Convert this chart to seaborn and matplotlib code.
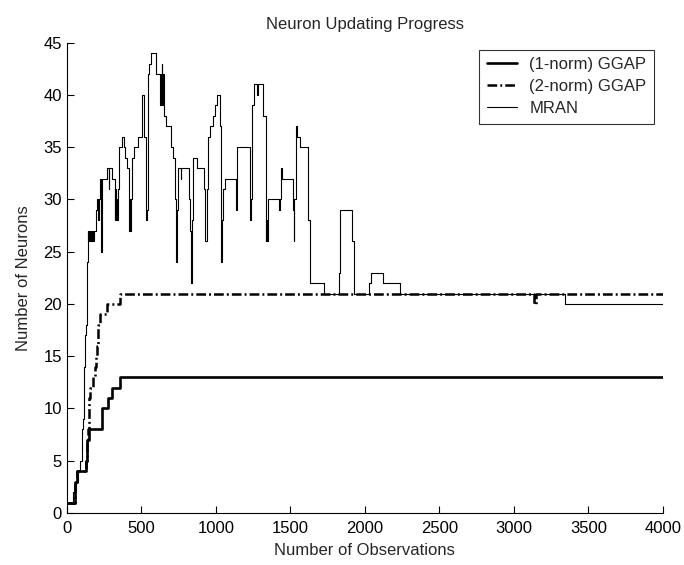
import matplotlib
matplotlib.use("Agg")
import matplotlib.pyplot as plt
import seaborn as sns
import pandas as pd

# Step-change points (observation index, neuron count)
ggap1_x = [0, 58, 72, 132, 136, 152, 237, 278, 303, 355, 4000]
ggap1_y = [1, 3, 4, 5, 7, 8, 10, 11, 12, 13, 13]

ggap2_x = [0, 58, 72, 128, 134, 140, 148, 156, 175, 188, 196, 202, 207, 213,
           222, 268, 360, 3138, 3150, 4000]
ggap2_y = [1, 3, 4, 5, 7, 8, 11, 12, 13, 14, 15, 16, 17, 18,
           19, 20, 21, 20, 21, 21]

mran_x = [0, 40, 62, 75, 88, 100, 104, 110, 114, 118, 123, 128, 134, 142,
          146, 150, 156, 160, 166, 172, 178, 184,
          194, 206, 210, 215, 222, 233, 238, 270, 282, 286, 305,
          322, 326, 330, 335, 340, 344, 350, 368, 386, 391, 402,
          418, 425, 428, 432, 438, 452, 480, 507, 516, 529, 533, 538,
          545, 555, 565, 597, 620, 626, 630, 634, 638, 642, 646,
          652, 668, 697, 713, 724, 731, 740, 750, 765, 770,
          822, 828, 832, 838, 845, 876, 921, 930, 938, 950, 961, 979, 995,
          1010, 1026, 1034, 1038, 1042, 1046, 1062, 1135, 1142,
          1228, 1232, 1236, 1240, 1256, 1276, 1284, 1318, 1334, 1340, 1346,
          1352, 1426, 1432, 1436, 1446, 1518, 1522, 1528, 1536, 1546, 1565,
          1618, 1632, 1727, 1826, 1833, 1915, 1929, 2027, 2041, 2123, 2235,
          3342, 4000]
mran_y = [1, 2, 3, 4, 5, 6, 8, 9, 11, 14, 17, 18, 24, 27,
          26, 27, 26, 27, 26, 27, 26, 27,
          29, 30, 28, 30, 32, 25, 32, 33, 31, 33, 32,
          28, 31, 28, 30, 28, 31, 35, 36, 35, 34, 33,
          27, 30, 27, 30, 34, 35, 36, 40, 36, 29, 28, 29,
          42, 43, 44, 42, 42, 39, 42, 39, 43, 39, 42,
          38, 37, 35, 34, 30, 24, 29, 33, 32, 33,
          30, 27, 22, 28, 34, 33, 31, 26, 31, 36, 37, 38, 39,
          40, 37, 28, 24, 28, 31, 32, 29, 35,
          30, 28, 30, 39, 41, 40, 41, 38, 26, 28, 26,
          30, 29, 30, 33, 32, 29, 26, 30, 37, 36, 35,
          28, 22, 21, 23, 29, 26, 21, 22, 23, 22, 21,
          20, 20]

x_ticks = [0, 500, 1000, 1500, 2000, 2500, 3000, 3500, 4000]
y_ticks = [0, 5, 10, 15, 20, 25, 30, 35, 40, 45]

sns.set_theme(style="ticks")
plt.rcParams["font.family"] = ["Liberation Sans", "DejaVu Sans"]
plt.rcParams["lines.scale_dashes"] = False

fig = plt.figure(figsize=(6.84, 5.65), dpi=100)
ax = fig.add_axes([0.0975, 0.092, 0.8717, 0.8325])

d1 = pd.DataFrame({"obs": ggap1_x, "n": ggap1_y})
d2 = pd.DataFrame({"obs": ggap2_x, "n": ggap2_y})
d3 = pd.DataFrame({"obs": mran_x, "n": mran_y})

sns.lineplot(data=d3, x="obs", y="n", ax=ax, color="black", linewidth=0.8,
             drawstyle="steps-post", estimator=None, label="MRAN", zorder=2)
sns.lineplot(data=d2, x="obs", y="n", ax=ax, color="black", linewidth=1.8,
             drawstyle="steps-post", estimator=None, label="(2-norm) GGAP",
             dashes=False, zorder=3)
sns.lineplot(data=d1, x="obs", y="n", ax=ax, color="black", linewidth=1.9,
             drawstyle="steps-post", estimator=None, label="(1-norm) GGAP",
             zorder=4)
ax.lines[1].set_dashes([7.0, 2.2, 1.4, 2.2])

ax.set_xlim(0, 4000)
ax.set_ylim(0, 45)
ax.set_xticks(x_ticks)
ax.set_yticks(y_ticks)
ax.tick_params(direction="in", length=5, width=0.8, colors="black",
               labelsize=12)
ax.tick_params(axis="x", pad=5.5)
ax.tick_params(axis="y", pad=3.5)
for side in ("top", "right"):
    ax.spines[side].set_visible(False)
for side in ("left", "bottom"):
    ax.spines[side].set_linewidth(0.8)
    ax.spines[side].set_color("black")

ax.set_title("Neuron Updating Progress", fontsize=12, pad=10)
ax.set_xlabel("Number of Observations", fontsize=12, labelpad=5)
ax.set_ylabel("Number of Neurons", fontsize=12, labelpad=9)

handles, labels = ax.get_legend_handles_labels()
order = [2, 1, 0]
leg = ax.legend([handles[i] for i in order], [labels[i] for i in order],
                loc="upper right", bbox_to_anchor=(0.985, 0.985),
                borderaxespad=0, fontsize=12, frameon=True, fancybox=False,
                edgecolor="black", handlelength=1.85, handletextpad=0.72,
                labelspacing=0.42, borderpad=0.45)
leg.get_frame().set_linewidth(0.8)

fig.savefig("out.png", dpi=100, facecolor="white")
